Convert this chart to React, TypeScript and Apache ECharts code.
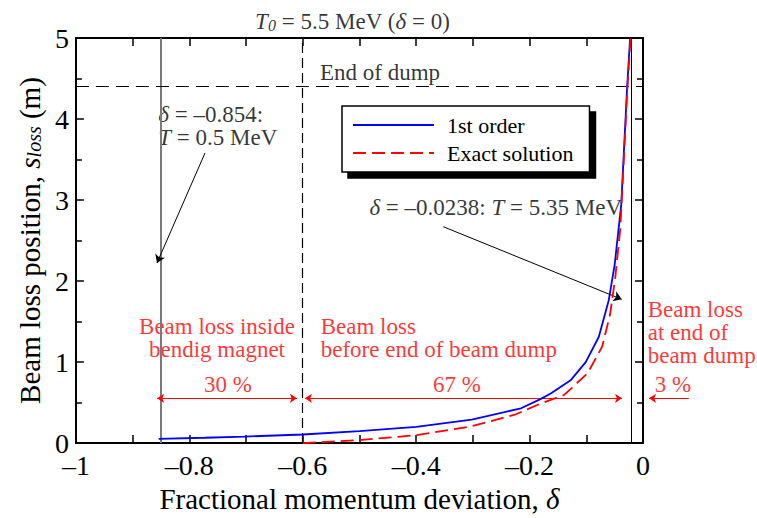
import React, { useEffect, useRef } from 'react';
import * as echarts from 'echarts';

const FONT = "'Liberation Serif', 'Times New Roman', Times, serif";

// 1st order approximation: fractional momentum deviation vs beam loss position (m)
const firstOrderDelta = [-0.854, -0.773, -0.703, -0.6, -0.5, -0.4, -0.302, -0.215, -0.18, -0.162, -0.127, -0.101, -0.078, -0.0605, -0.05, -0.0384, -0.0332, -0.0279, -0.0227];
const firstOrderS = [0.053, 0.066, 0.08, 0.106, 0.147, 0.2, 0.29, 0.43, 0.546, 0.615, 0.78, 1.0, 1.31, 1.76, 2.2, 2.94, 3.67, 4.4, 5.0];

// Exact solution
const exactDelta = [-0.6, -0.5, -0.4, -0.302, -0.226, -0.18, -0.139, -0.098, -0.072, -0.058, -0.049, -0.04, -0.0326, -0.0274, -0.0218];
const exactS = [0, 0.037, 0.098, 0.208, 0.35, 0.49, 0.595, 0.86, 1.19, 1.59, 2.04, 2.65, 3.67, 4.4, 5.0];

// reference lines
const boundaryDeltas = [-0.854, -0.6, -0.0238];
const dumpEndS = [4.4];
const seriesNames = ['1st order', 'Exact solution'];
const shareLabels = ['30 %', '67 %', '3 %'];

export default function App() {
  const ref = useRef<HTMLDivElement>(null);
  useEffect(() => {
    const chart = echarts.init(ref.current!, null, { renderer: 'svg' });
    const mkRich = (color: string, size = 23) => ({
      i: { fontStyle: 'italic', fontFamily: FONT, fontSize: size, color },
      sub: { fontStyle: 'italic', fontFamily: FONT, fontSize: Math.round(size * 0.7), lineHeight: Math.round(size * 0.7), color, verticalAlign: 'bottom', padding: [Math.round(size * 0.55), 0, 0, 0] },
    });
    const txt = (x: number, y: number, formatter: string, align: string, color = '#000') => ({
      value: [x, y],
      label: {
        show: true, position: 'inside', formatter, align, verticalAlign: 'middle',
        color, fontFamily: FONT, fontSize: 23, lineHeight: 23, rich: mkRich(color),
      },
    });
    const black = { color: '#000', width: 1, type: 'solid' };
    const red = { color: '#ff0000', width: 1.2, type: 'solid' };
    const arrow = (a: number[], b: number[], ls: any, both: boolean, size: number) => [
      { coord: a, symbol: both ? 'arrow' : 'none', symbolSize: size, lineStyle: ls },
      { coord: b, symbol: 'arrow', symbolSize: size, lineStyle: ls },
    ];
    const axisCommon = {
      type: 'value',
      axisLine: { show: true, onZero: false, lineStyle: { color: '#000', width: 2 } },
      splitLine: { show: false },
    };
    const xMain = { ...axisCommon, gridIndex: 0, min: -1, max: 0, interval: 0.2,
      axisTick: { show: true, inside: true, length: 8, lineStyle: { color: '#000', width: 1.5 } },
      minorTick: { show: true, splitNumber: 2, length: 8, lineStyle: { color: '#000', width: 1.5 } },
    };
    const yMain = { ...axisCommon, gridIndex: 0, min: 0, max: 5, interval: 1,
      axisTick: { show: true, inside: true, length: 8, lineStyle: { color: '#000', width: 1.5 } },
      minorTick: { show: true, splitNumber: 2, length: 6, lineStyle: { color: '#000', width: 1.5 } },
    };
    const option: any = {
      animation: false,
      grid: [
        { left: 70, top: 38, width: 573, height: 409 },
        { left: 70, top: 38, width: 573 * 1.19, height: 409 },
      ],
      legend: {
        data: seriesNames,
        orient: 'vertical', left: 342, top: 106,
        padding: [8, 16, 8, 10], itemGap: 6, itemWidth: 81, itemHeight: 22,
        backgroundColor: '#fff', borderColor: '#000', borderWidth: 1.5,
        shadowColor: '#000', shadowOffsetX: 6, shadowOffsetY: 6, shadowBlur: 0,
        itemStyle: { opacity: 0 },
        textStyle: { fontFamily: FONT, fontSize: 22, color: '#000', padding: [0, 0, 0, 8], lineHeight: 22 },
        selectedMode: false,
      },
      xAxis: [
        { ...xMain, position: 'bottom',
          axisLabel: { margin: 12, fontFamily: FONT, fontSize: 28, lineHeight: 20, color: '#000',
            formatter: (v: number) => (Math.abs(v) < 1e-9 ? '0' : '\u2013' + parseFloat(Math.abs(v).toFixed(2))) },
          name: 'Fractional momentum deviation, {i|δ}', nameLocation: 'middle', nameGap: 35,
          nameTextStyle: { fontFamily: FONT, fontSize: 29, color: '#000', rich: mkRich('#000', 29) },
        },
        { ...xMain, position: 'top', axisLabel: { show: false } },
        { type: 'value', gridIndex: 1, min: -1, max: 0.19, show: false },
      ],
      yAxis: [
        { ...yMain, position: 'left',
          axisLabel: { margin: 7, fontFamily: FONT, fontSize: 28, lineHeight: 20, color: '#000' },
          name: 'Beam loss position, {i|s}{sub|loss} (m)', nameLocation: 'middle', nameGap: 26, nameRotate: 90,
          nameTextStyle: { fontFamily: FONT, fontSize: 29, color: '#000', rich: mkRich('#000', 29) },
        },
        { ...yMain, position: 'right', axisLabel: { show: false } },
        { type: 'value', gridIndex: 1, min: 0, max: 5, show: false },
      ],
      series: [
        {
          name: seriesNames[0], type: 'line', xAxisIndex: 0, yAxisIndex: 0,
          data: firstOrderDelta.map((d, i) => [d, firstOrderS[i]]),
          symbol: 'none', showSymbol: false, smooth: false,
          lineStyle: { color: '#0000ff', width: 1.8 }, itemStyle: { color: '#0000ff' },
          z: 5,
          markLine: {
            silent: true, symbol: 'none', label: { show: false },
            data: [
              { xAxis: boundaryDeltas[0], lineStyle: { color: '#7a7a7a', width: 2, type: 'solid' } },
              { xAxis: boundaryDeltas[1], lineStyle: { color: '#000', width: 1.2, type: [10, 5] } },
              { xAxis: boundaryDeltas[2], lineStyle: { color: '#000', width: 1, type: 'solid' } },
              { yAxis: dumpEndS[0], lineStyle: { color: '#000', width: 1.2, type: [13, 7] } },
            ],
          },
        },
        {
          name: seriesNames[1], type: 'line', xAxisIndex: 0, yAxisIndex: 0,
          data: exactDelta.map((d, i) => [d, exactS[i]]),
          symbol: 'none', showSymbol: false, smooth: false,
          lineStyle: { color: '#ff0000', width: 1.8, type: [13, 6] }, itemStyle: { color: '#ff0000' },
          z: 6,
        },
        {
          type: 'scatter', xAxisIndex: 2, yAxisIndex: 2, clip: false, silent: true,
          symbolSize: 0.1, itemStyle: { color: 'transparent' },
          emphasis: { disabled: true },
          data: [
            txt(-0.507, 5.196, '{i|T}{sub|0} = 5.5 MeV ({i|δ} = 0)', 'center'),
            txt(-0.5637, 4.584, 'End of dump', 'left'),
            txt(-0.846, 3.924, '{i|δ} = \u20130.854:\n{i|T} = 0.5 MeV', 'left'),
            txt(-0.0366, 2.93, '{i|δ} = \u20130.0238: {i|T} = 5.35 MeV', 'right'),
            txt(-0.7435, 1.333, 'Beam loss inside\nbendig magnet', 'center', '#ff0000'),
            txt(-0.5625, 1.333, 'Beam loss\nbefore end of beam dump', 'left', '#ff0000'),
            txt(0.0082, 1.394, 'Beam loss\nat end of\nbeam dump', 'left', '#ff0000'),
            txt(-0.7243, 0.77, shareLabels[0], 'center', '#ff0000'),
            txt(-0.3246, 0.77, shareLabels[1], 'center', '#ff0000'),
            txt(0.0524, 0.77, shareLabels[2], 'center', '#ff0000'),
          ],
          markLine: {
            silent: true, label: { show: false },
            data: [
              arrow([-0.7644, 3.594], [-0.8482, 2.249], black, false, 8),
              arrow([-0.3485, 2.693], [-0.0372, 1.806], black, false, 8),
              arrow([-0.848, 0.595], [-0.604, 0.595], red, true, 7),
              arrow([-0.59, 0.595], [-0.0366, 0.595], red, true, 7),
              arrow([0.08, 0.595], [0.0105, 0.595], red, false, 7),
            ],
          },
        },
      ],
    };
    chart.setOption(option);
    return () => chart.dispose();
  }, []);
  return <div ref={ref} style={{ position: 'fixed', left: 0, top: 0, width: 757, height: 518, background: '#fff' }} />;
}
